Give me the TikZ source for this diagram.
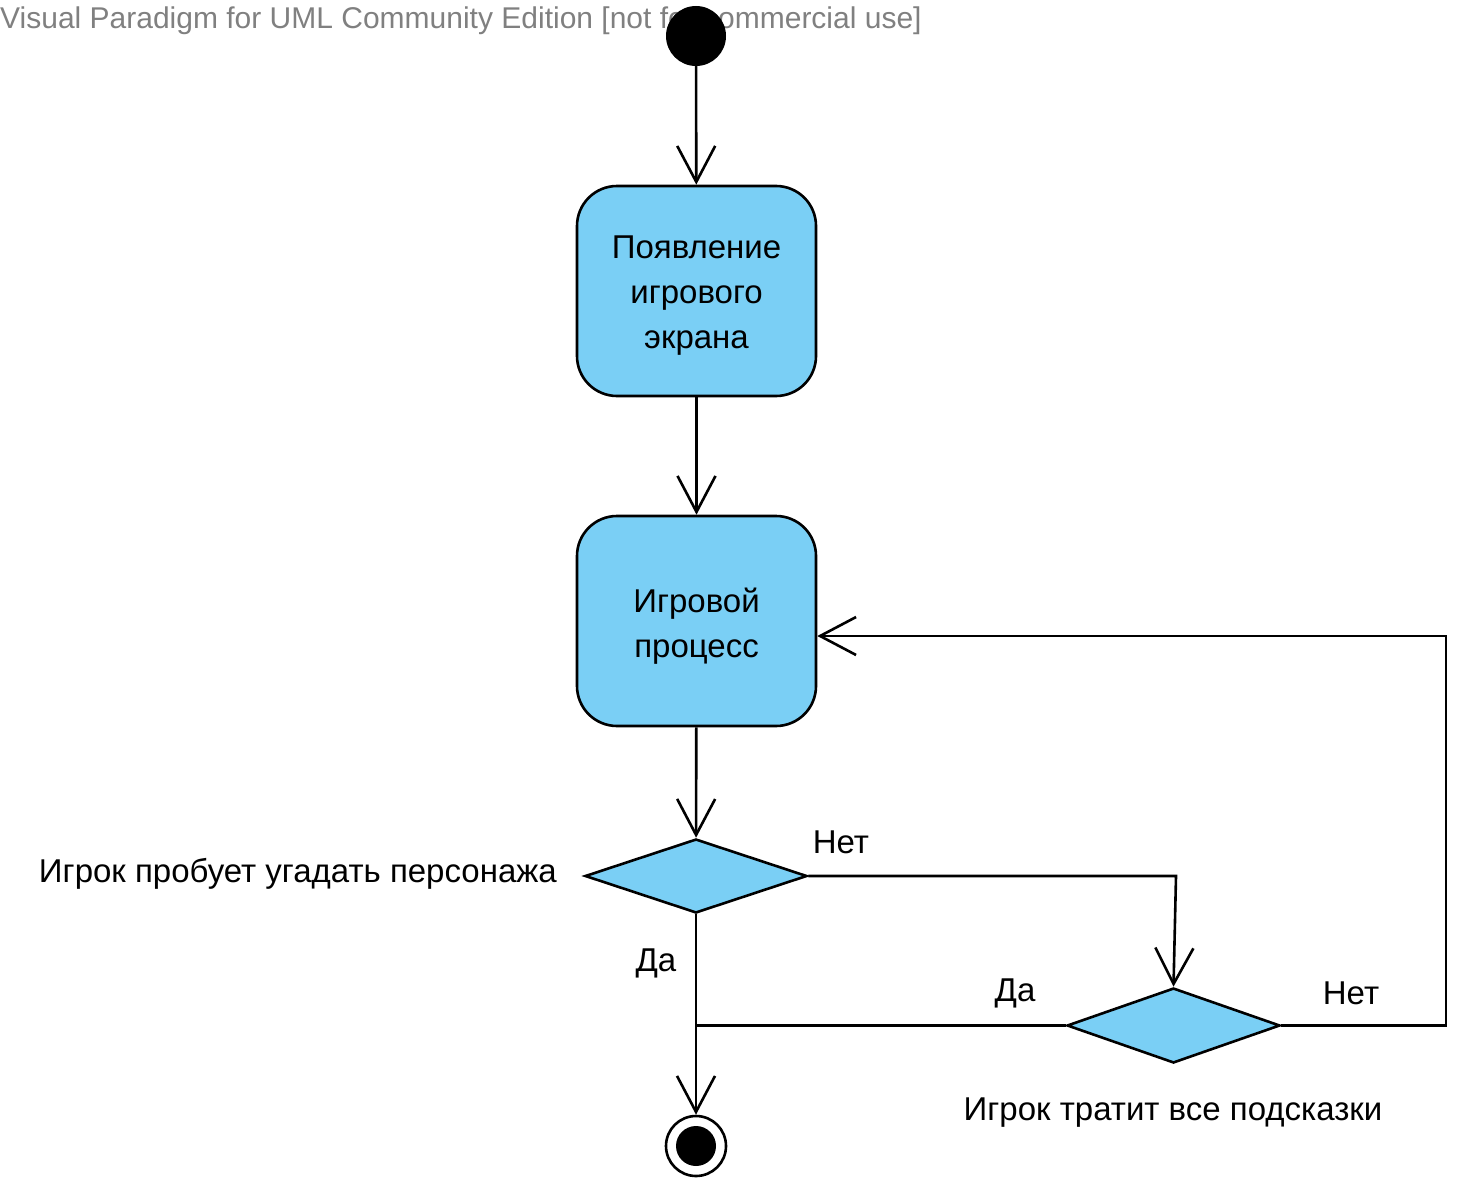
\documentclass[tikz,border=0pt]{standalone}
\usepackage{fontspec}
\setmainfont{Liberation Sans}
\usetikzlibrary{arrows.meta,shapes.geometric}
\definecolor{actfill}{RGB}{122,207,245}
\definecolor{wmgray}{RGB}{128,128,128}
\newcommand{\boxtext}[2]{\raisebox{#1}[\height][\depth]{\begin{tabular}{@{}c@{}}#2\end{tabular}}}
\begin{document}
\begin{tikzpicture}[x=1pt,y=-1pt,
  every node/.style={font=\fontsize{33}{45}\selectfont},
  flow/.style={line width=2.6pt,-{Straight Barb[length=36pt,width=38pt,line width=2.6pt]}},
  plain/.style={line width=2.6pt},
  action/.style={draw,line width=2.6pt,fill=actfill,rounded corners=40pt,minimum width=239pt,minimum height=210pt,align=center,inner sep=0pt},
  decision/.style={draw,line width=2.6pt,fill=actfill,diamond,inner sep=0pt,aspect=3},
  lbl/.style={inner sep=0pt}]
\useasboundingbox (0,0) rectangle (1458,1188);
\node[lbl,anchor=west,text=wmgray,font=\fontsize{30}{30}\selectfont] (wm) at (0,21) {Visual Paradigm for UML Community Edition [not for commercial use]};
\node[circle,fill=black,minimum size=60pt,inner sep=0pt] (start) at (696,36) {};
\node[action] (b1) at (696.5,291) {\boxtext{-3pt}{Появление\\игрового\\экрана}};
\node[action] (b2) at (696.5,621) {\boxtext{-5pt}{Игровой\\процесс}};
\node[decision,minimum width=222pt,minimum height=74pt] (d1) at (696,876) {};
\node[decision,minimum width=213pt,minimum height=75pt] (d2) at (1173.5,1025.5) {};
\node[circle,draw,line width=2.6pt,fill=white,minimum size=60pt,inner sep=0pt,
  path picture={\fill[black] (path picture bounding box.center) circle (20pt);}] (fin) at (696,1146) {};
\coordinate (c1) at (1176,876);
\coordinate (j) at (696,1025.5);
\coordinate (c3) at (1446,636);
\draw[flow] (start) -- (b1);
\draw[flow] (b1) -- (b2);
\draw[flow] (b2) -- (d1);
\draw[flow] (d1.east) -- (c1) -- (d2.north);
\draw[flow] (d1.south) -- (fin.north);
\draw[plain] (d2.west) -- (j);
\draw[flow] (d2.east) -| (c3) -- (b2.east |- c3);
\node[lbl] (l1) at (841,842) {Нет};
\node[lbl] (l2) at (656,963) {Да};
\node[lbl] (l3) at (1015,993) {Да};
\node[lbl] (l4) at (1351,993) {Нет};
\node[lbl,anchor=east] (l5) at (557,874) {Игрок пробует угадать персонажа};
\node[lbl] (l6) at (1173,1113) {Игрок тратит все подсказки};
\end{tikzpicture}
\end{document}
